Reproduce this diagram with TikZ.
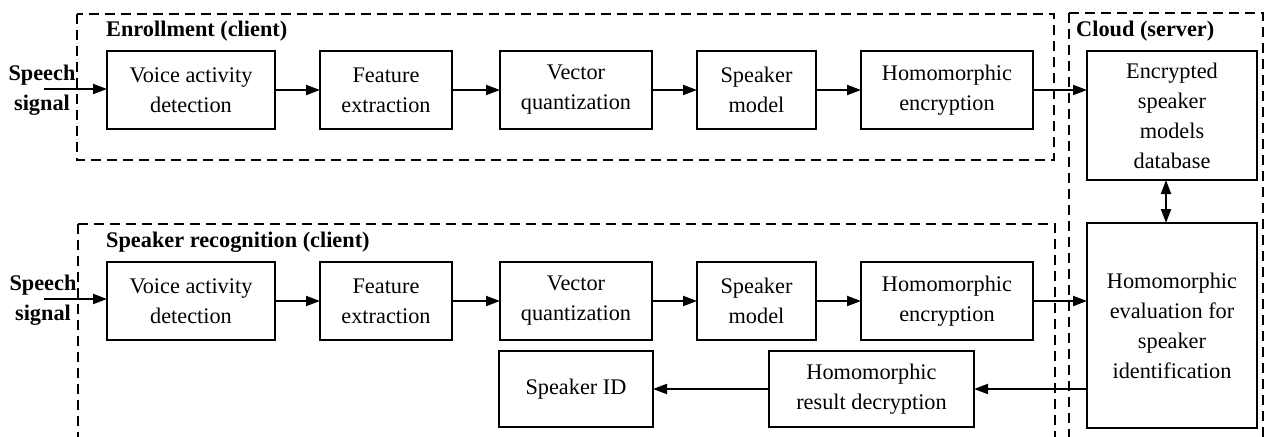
\documentclass[tikz,border=0pt]{standalone}
\usepackage{fontspec}
\setmainfont{Liberation Serif}
\usepackage{tikz}
\usetikzlibrary{arrows.meta, positioning, calc}
\tikzset{
    base/.style={
        draw,
        line width=2.2pt,
        minimum height=78pt,
        align=center,
        font=\fontsize{22.3}{30}\selectfont,
        inner sep=2pt,
        outer sep=0pt
    },
    label/.style={font=\fontsize{22.3}{30}\selectfont\bfseries, align=center, inner sep=0pt},
    region/.style={line width=2pt, dash pattern=on 10pt off 6pt},
    arrow/.style={-{Triangle[length=14pt,width=10pt]}, line width=2pt},
    dblarrow/.style={{Triangle[length=14pt,width=10pt]}-{Triangle[length=14pt,width=10pt]}, line width=2pt}
}

\begin{document}
\begin{tikzpicture}[x=1pt, y=-1pt]
        \useasboundingbox (0,0) rectangle (1265,436);

        % client and server regions
        \draw[region] (77,14) rectangle (1054,160);
        \draw[region] (78,224) -- (78,438) (78,224) -- (1055,224) -- (1055,438);
        \draw[region] (1069,13) -- (1263,13) -- (1263,438) (1069,13) -- (1069,438);
        \node[label, anchor=west] (enrolltitle) at (106,31) {Enrollment (client)};
        \node[label, anchor=west] (recogtitle) at (106,242) {Speaker recognition (client)};
        \node[label, anchor=west] (cloudtitle) at (1076,31) {Cloud (server)};

        % enrollment chain
        \node[base, minimum width=168pt] (vad1) at (191,90) {Voice activity\\detection};
        \node[base, minimum width=132pt, right=45pt of vad1] (fe1) {Feature\\extraction};
        \node[base, minimum width=152pt, right=48pt of fe1] (vq1) {Vector\\quantization};
        \node[base, minimum width=119pt, right=45pt of vq1] (sm1) {Speaker\\model};
        \node[base, minimum width=172pt, right=45pt of sm1] (he1) {Homomorphic\\encryption};
        \node[base, minimum width=170pt, minimum height=129pt, anchor=north west] (db) at ([xshift=54pt]he1.north east) {Encrypted\\speaker\\models\\database};

        \node[label] (sig1) at (42,90) {Speech\\signal};
        \coordinate (sig1in) at (44,89);

        % recognition chain
        \node[base, minimum width=168pt, below=133pt of vad1] (vad2) {Voice activity\\detection};
        \node[base, minimum width=132pt, right=45pt of vad2] (fe2) {Feature\\extraction};
        \node[base, minimum width=152pt, right=48pt of fe2] (vq2) {Vector\\quantization};
        \node[base, minimum width=119pt, right=45pt of vq2] (sm2) {Speaker\\model};
        \node[base, minimum width=172pt, right=45pt of sm2] (he2) {Homomorphic\\encryption};
        \node[base, minimum width=170pt, minimum height=205pt, anchor=north west] (eval) at (1087,223) {Homomorphic\\evaluation for\\speaker\\identification};
        \node[base, minimum width=154pt, minimum height=76pt, below=11pt of vq2] (sid) {Speaker ID};
        \node[base, minimum width=205pt, minimum height=76pt, right=116pt of sid] (dec) {Homomorphic\\result decryption};

        \node[label] (sig2) at (43,300) {Speech\\signal};
        \coordinate (sig2in) at (44,299);

        % connectors
        \draw[arrow] (sig1in) -- (sig1in -| vad1.west);
        \draw[arrow] (vad1) -- (fe1);
        \draw[arrow] (fe1) -- (vq1);
        \draw[arrow] (vq1) -- (sm1);
        \draw[arrow] (sm1) -- (he1);
        \draw[arrow] (he1.east) -- (he1.east -| db.west);

        \draw[arrow] (sig2in) -- (sig2in -| vad2.west);
        \draw[arrow] (vad2) -- (fe2);
        \draw[arrow] (fe2) -- (vq2);
        \draw[arrow] (vq2) -- (sm2);
        \draw[arrow] (sm2) -- (he2);
        \draw[arrow] (he2.east) -- (he2.east -| eval.west);
        \draw[arrow] (dec.east -| eval.west) -- (dec.east);
        \draw[arrow] (dec) -- (sid);
        \draw[dblarrow] ([xshift=-6pt]db.south) -- ([xshift=-6pt]eval.north);
\end{tikzpicture}
\end{document}
